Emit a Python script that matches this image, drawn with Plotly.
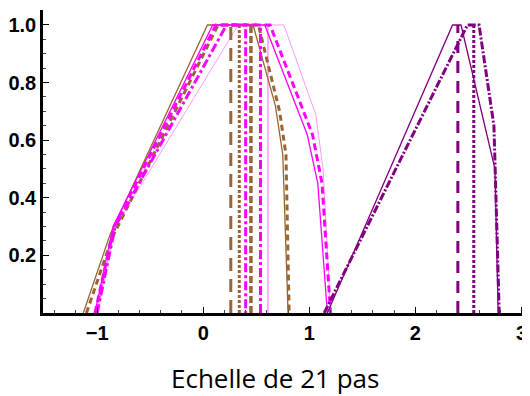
import plotly.graph_objects as go

# fuzzy numbers on a 21-step scale
BROWN = "#996633"
MAGENTA = "#FF00FF"
PINK = "#FF99FF"
PURPLE = "#800080"

# brown group
brown_solid_x = [-1.13, -0.88, 0.04, 0.47, 0.68, 0.75, 0.80]
brown_solid_y = [0, 0.27, 1, 1, 0.72, 0.55, 0]
brown_dash_x = [-1.10, -0.86, 0.14, 0.52, 0.72, 0.78, 0.81]
brown_dash_y = [0, 0.26, 1, 1, 0.70, 0.55, 0]
brown_longdash_x = [0.26, 0.26]
brown_longdash_y = [0, 1]
brown_dot_x = [0.34, 0.34]
brown_dot_y = [0, 1]
brown_vdash_x = [0.45, 0.45]
brown_vdash_y = [0, 1]

# magenta group
magenta_solid_x = [-1.02, -0.85, 0.09, 0.58, 0.98, 1.08, 1.17]
magenta_solid_y = [0, 0.30, 1, 1, 0.62, 0.45, 0]
magenta_dash_x = [-1.02, -0.84, 0.12, 0.63, 1.03, 1.12, 1.20]
magenta_dash_y = [0, 0.30, 1, 1, 0.62, 0.45, 0]
magenta_dashdot_x = [-1.00, -0.83, 0.22, 0.40, 0.40]
magenta_dashdot_y = [0, 0.30, 1, 1, 0]
magenta_vdashdot_x = [0.54, 0.54]
magenta_vdashdot_y = [0, 1]
pink_x = [-1.00, -0.84, 0.33, 0.76, 1.06, 1.13, 1.20]
pink_y = [0, 0.29, 1, 1, 0.69, 0.50, 0]
pink_v_x = [0.61, 0.61]
pink_v_y = [0, 1]

# purple group
purple_solid_x = [1.17, 2.35, 2.43, 2.75, 2.78]
purple_solid_y = [0, 1, 1, 0.50, 0]
purple_dashdot_x = [1.14, 2.49, 2.60, 2.74, 2.79]
purple_dashdot_y = [0, 1, 1, 0.65, 0]
purple_dash_x = [2.40, 2.40]
purple_dash_y = [0, 1]
purple_dot_x = [2.55, 2.55]
purple_dot_y = [0, 1]

x_ticks = [-1, 0, 1, 2, 3]
x_labels = ["\u22121", "0", "1", "2", "3"]
y_ticks = [0.2, 0.4, 0.6, 0.8, 1.0]
y_labels = ["0.2", "0.4", "0.6", "0.8", "1.0"]

traces = [
    (pink_x, pink_y, PINK, 1, "solid"),
    (pink_v_x, pink_v_y, PINK, 1.5, "solid"),
    (brown_solid_x, brown_solid_y, BROWN, 1.3, "solid"),
    (brown_dash_x, brown_dash_y, BROWN, 3, "6px,4px"),
    (brown_longdash_x, brown_longdash_y, BROWN, 3, "13px,8px"),
    (brown_dot_x, brown_dot_y, BROWN, 3, "3px,2px"),
    (brown_vdash_x, brown_vdash_y, BROWN, 3.5, "7px,3px"),
    (magenta_solid_x, magenta_solid_y, MAGENTA, 1.3, "solid"),
    (magenta_dash_x, magenta_dash_y, MAGENTA, 3, "7px,4px"),
    (magenta_dashdot_x, magenta_dashdot_y, MAGENTA, 3, "9px,3px,3px,3px"),
    (magenta_vdashdot_x, magenta_vdashdot_y, MAGENTA, 3, "9px,3px,3px,3px"),
    (purple_solid_x, purple_solid_y, PURPLE, 1.3, "solid"),
    (purple_dashdot_x, purple_dashdot_y, PURPLE, 3, "8px,2px,2px,2px"),
    (purple_dash_x, purple_dash_y, PURPLE, 3, "12px,8px"),
    (purple_dot_x, purple_dot_y, PURPLE, 3, "3px,2px"),
]

fig = go.Figure()
for xs, ys, col, w, dash in traces:
    fig.add_trace(go.Scatter(x=xs, y=ys, mode="lines",
                             line=dict(color=col, width=w, dash=dash)))

# the page body adds an 8px margin, so the figure is a bit smaller
fig.update_layout(
    width=522, height=388,
    margin=dict(l=35, r=0, t=2, b=83),
    paper_bgcolor="white", plot_bgcolor="white",
    showlegend=False,
    font=dict(family="Liberation Sans", size=20, color="black", weight="bold"),
)
fig.update_xaxes(
    range=[-1.51, 3.08], showgrid=False, zeroline=False, automargin=False,
    showline=True, linecolor="black", linewidth=2.5,
    tickvals=x_ticks, ticktext=x_labels,
    ticks="inside", ticklen=6, tickwidth=1, tickcolor="black",
    minor=dict(dtick=0.2, ticks="inside", ticklen=3, tickcolor="#444"),
)
fig.update_yaxes(
    range=[0, 1.052], showgrid=False, zeroline=False, automargin=False,
    showline=True, linecolor="black", linewidth=2.5,
    tickvals=y_ticks, ticktext=y_labels,
    ticks="inside", ticklen=6, tickwidth=1, tickcolor="black",
    minor=dict(dtick=0.05, ticks="inside", ticklen=3, tickcolor="#444"),
)
fig.add_annotation(text="Echelle de 21 pas", xref="paper", yref="paper",
                   x=0.476, y=-0.215, showarrow=False, yanchor="middle",
                   font=dict(family="Open Sans", size=26, color="black",
                             weight="normal"))

fig.write_html("out.html")
